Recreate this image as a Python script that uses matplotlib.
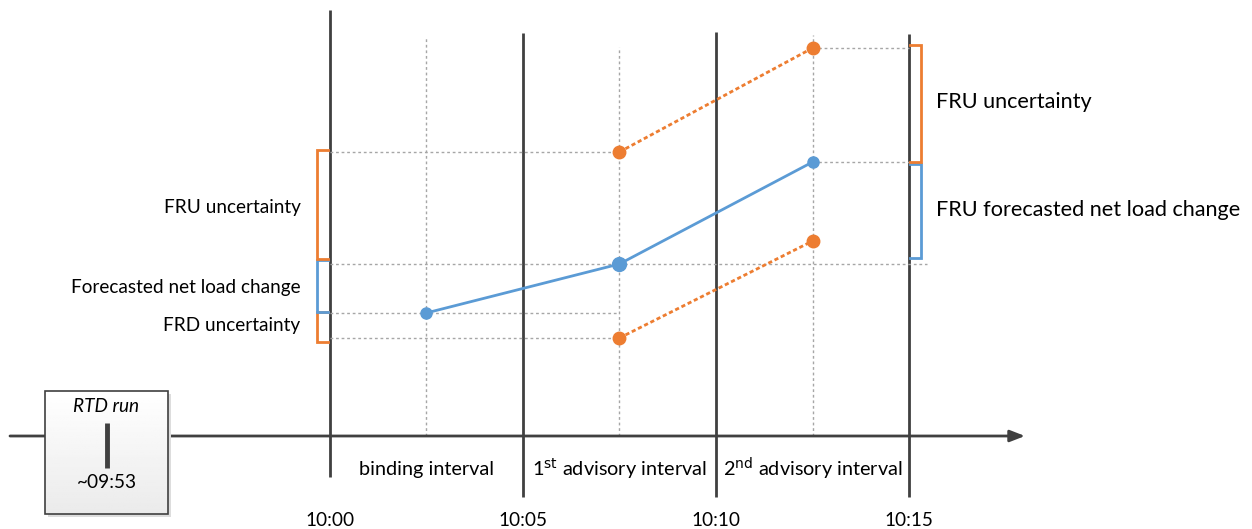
import matplotlib
matplotlib.use("Agg")
import matplotlib.pyplot as plt
import numpy as np

# time axis (minutes after 10:00) and labels
boundary_min = [0, 5, 10, 15]
boundary_labels = ["10:00", "10:05", "10:10", "10:15"]
interval_mid = [2.5, 7.5, 12.5]
interval_names = ["binding interval", r"1$^{\mathrm{st}}$ advisory interval",
                  r"2$^{\mathrm{nd}}$ advisory interval"]

# net load levels (arbitrary units above the time axis)
forecast = [123, 172, 274]
fru_upper = [284, 388]          # at 1st and 2nd advisory midpoints
frd_lower = [98, 195]

BLUE = "#5B9BD5"
ORANGE = "#ED7D31"
DARK = "#404040"
GRID = "#A6A6A6"

plt.rcParams['font.family'] = ['Lato', 'DejaVu Sans']

fig = plt.figure(figsize=(12.52, 5.29), dpi=100)
ax = fig.add_axes([0, 0, 1, 1])
px = 38.65  # pixels per minute
x_origin = 329.5
ax.set_xlim(-x_origin / px, (1252 - x_origin) / px)
ax.set_ylim(-93, 436)
ax.axis("off")

dx = 1 / px  # one pixel in x

# main time axis with arrow
ax.annotate("", xy=((1025 - x_origin) * dx, 0), xytext=((10 - x_origin) * dx, 0),
            arrowprops=dict(arrowstyle="-|>,head_length=0.9,head_width=0.35",
                            color=DARK, lw=2, shrinkA=0, shrinkB=0))

# interval boundary lines
tops = [426, 403, 404, 402]
for t, top in zip(boundary_min, tops):
    bottom = -41 if t == 0 else -61
    ax.plot([t, t], [bottom, top], color=DARK, lw=2, solid_capstyle="butt")

# dotted guides at interval midpoints
guide_tops = [399, 389, 401]
for m, top in zip(interval_mid, guide_tops):
    ax.plot([m, m], [0, top], color=GRID, lw=1, ls=(0, (2, 2)))

# horizontal dotted guides
for y in [forecast[0], fru_upper[0], frd_lower[0]]:
    ax.plot([0, interval_mid[1]], [y, y], color=GRID, lw=1, ls=(0, (2, 2)))
ax.plot([0, 15 + 18 * dx], [forecast[1], forecast[1]], color=GRID, lw=1, ls=(0, (2, 2)))
for y in [fru_upper[1], forecast[2]]:
    ax.plot([interval_mid[2], 15], [y, y], color=GRID, lw=1, ls=(0, (2, 2)))

# forecast and uncertainty lines
ax.plot(interval_mid, forecast, color=BLUE, lw=2, zorder=5)
ax.plot(interval_mid, forecast, "o", color=BLUE, ms=8, zorder=6)
ax.plot(interval_mid[1], forecast[1], "o", color=BLUE, ms=10, zorder=6)
ax.plot(interval_mid[1:], fru_upper, color=ORANGE, lw=2, ls=(0, (1.5, 1)), zorder=5)
ax.plot(interval_mid[1:], fru_upper, "o", color=ORANGE, ms=9, zorder=6)
ax.plot(interval_mid[1:], frd_lower, color=ORANGE, lw=2, ls=(0, (1.5, 1)), zorder=5)
ax.plot(interval_mid[1:], frd_lower, "o", color=ORANGE, ms=9, zorder=6)


def bracket(x, y0, y1, tick, color):
    ax.plot([x + tick, x, x, x + tick], [y0, y0, y1, y1], color=color, lw=2,
            solid_joinstyle="miter")


# left brackets (binding interval)
bx = -13 * dx
bracket(bx, frd_lower[0] - 4, forecast[0] + 1, 11 * dx, ORANGE)
bracket(bx, forecast[0] + 1, forecast[1] + 4, 11 * dx, BLUE)
bracket(bx, forecast[1] + 5, fru_upper[0] + 2, 11 * dx, ORANGE)

# right brackets (2nd advisory interval)
rx = 15 + 12 * dx
bracket(rx, forecast[1] + 6, forecast[2] - 2, -11 * dx, BLUE)
bracket(rx, forecast[2], fru_upper[1] + 3, -11 * dx, ORANGE)

lx = -29 * dx
ax.text(lx, 229, "FRU uncertainty", ha="right", va="center", fontsize=13.7)
ax.text(lx, 149, "Forecasted net load change", ha="right", va="center", fontsize=13.7)
ax.text(lx, 111, "FRD uncertainty", ha="right", va="center", fontsize=13.7)
ax.text(15 + 27 * dx, 334, "FRU uncertainty", ha="left", va="center", fontsize=15.6)
ax.text(15 + 27 * dx, 226, "FRU forecasted net load change", ha="left", va="center",
        fontsize=15.6)

# interval names and boundary times
for m, name in zip(interval_mid, interval_names):
    ax.text(m, -33, name, ha="center", va="center", fontsize=14.3)
for t, lab in zip(boundary_min, boundary_labels):
    ax.text(t, -85, lab, ha="center", va="center", fontsize=13.7)

# RTD run box
x0, x1 = (45 - x_origin) * dx, (168 - x_origin) * dx
y0, y1 = -78, 45
shadow = plt.Rectangle((x0 + 3 * dx, y0 - 3), x1 - x0, y1 - y0, facecolor="#DDDDDD",
                       edgecolor="none", zorder=7)
ax.add_patch(shadow)
grad = np.linspace(1.0, 0.92, 64).reshape(-1, 1)
ax.imshow(grad, cmap="gray", vmin=0, vmax=1, extent=[x0, x1, y0, y1],
          aspect="auto", zorder=8)
ax.add_patch(plt.Rectangle((x0, y0), x1 - x0, y1 - y0, facecolor="none",
                           edgecolor=DARK, lw=1.2, zorder=9))
xc = (x0 + x1) / 2
ax.plot([xc, xc], [-32, 13], color=DARK, lw=3.5, zorder=10, solid_capstyle="butt")
ax.text(xc, 29, "RTD run", ha="center", va="center", fontsize=13.7, style="italic", zorder=10)
ax.text(xc, -46, "~09:53", ha="center", va="center", fontsize=13.7, zorder=10)
ax.set_xlim(-x_origin / px, (1252 - x_origin) / px)
ax.set_ylim(-93, 436)

fig.savefig("out.png", dpi=100, facecolor="white")
